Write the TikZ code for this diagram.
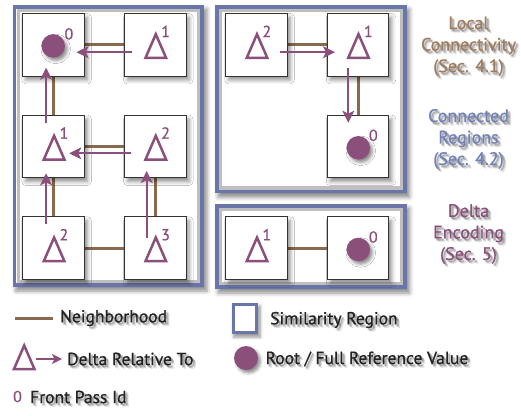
\documentclass[tikz,border=0pt]{standalone}
\usepackage{fontspec}
\setmainfont{PT Sans}[FakeBold=0.8]
\usetikzlibrary{arrows.meta,calc,shadows.blur}

\definecolor{plum}{HTML}{8B4F7B}
\definecolor{nbrbrown}{HTML}{8A6A4E}
\definecolor{regblue}{HTML}{6A75AA}
\definecolor{capbrown}{HTML}{A07B5C}
\definecolor{capblue}{HTML}{7282B8}
\definecolor{inktext}{HTML}{222222}

\tikzset{
  softshadow/.style={blur shadow={shadow xshift=3pt, shadow yshift=-4pt,
      shadow blur radius=4pt, shadow opacity=45}},
  cell/.style={draw=black!80, line width=0.9pt, fill=white, minimum width=61.5pt,
      minimum height=62.5pt, inner sep=0pt, softshadow},
  nbr/.style={draw=nbrbrown, line width=3pt},
  rel/.style={draw=plum, line width=1.8pt, -{Stealth[length=12pt,width=12pt,inset=3pt]}},
  supnum/.style={text=plum, font=\fontsize{16}{16}\selectfont, inner sep=0pt},
  root/.style={circle, fill=plum, minimum size=23.5pt, inner sep=0pt,
      blur shadow={shadow xshift=2.5pt, shadow yshift=-3pt, shadow blur radius=3pt, shadow opacity=45}},
  caption/.style={align=center, inner sep=0pt, font=\fontsize{18}{21.5}\selectfont},
  legend/.style={anchor=west, inner sep=0pt, text=inktext, font=\fontsize{17.5}{20}\selectfont},
  regionline/.style={draw=regblue, line width=3.6pt},
  regionband/.style={draw=black!25, line width=3.4pt},
  deltaglyph/.pic={\draw[plum, line width=2.5pt, line join=miter, miter limit=4]
      (0,-10.5) -- (10.3,13.2) -- (-10.3,13.2) -- cycle;}
}

% soft drop shadow under a text: a few faint offset copies
\newcommand\shadowtext[3]{%
  \foreach \dx/\dy in {1.5/1.5,2.5/2.5,2.5/1.5,1.5/2.5,3.5/3.5}{
    \node[#1, text=black, opacity=0.09] at ($(#2)+(\dx,\dy)$) {#3};
  }
}

\begin{document}
\begin{tikzpicture}[x=1pt,y=-1pt]
\useasboundingbox (0,0) rectangle (521,415);

% ---- similarity regions ----
\path[fill=white, softshadow] (12.7,5) rectangle (204,287);
\draw[regionband] (18.2,10.5) rectangle (198.5,281.5);
\draw[regionline] (14.5,6.8) rectangle (202.2,285.2);

\path[fill=white, softshadow] (215,5) rectangle (406.7,193.3);
\draw[regionband] (220.5,10.5) rectangle (401.2,187.8);
\draw[regionline] (216.8,6.8) rectangle (404.9,191.5);

\path[fill=white, softshadow] (215,204) rectangle (406.7,289);
\draw[regionband] (220.5,209.5) rectangle (401.2,283.5);
\draw[regionline] (216.8,205.8) rectangle (404.9,287.2);

% ---- cell centres ----
\coordinate (pA) at (53.6,44.7);  \coordinate (pB) at (155.3,44.7);
\coordinate (pC) at (53.6,146.3); \coordinate (pD) at (155.3,146.3);
\coordinate (pE) at (53.6,248);   \coordinate (pF) at (155.3,248);
\coordinate (pG) at (256.5,44.7); \coordinate (pH) at (358,44.7);
\coordinate (pI) at (358,146.3);
\coordinate (pJ) at (256.5,248);  \coordinate (pK) at (358,248);

% ---- neighbourhood links (behind cells) ----
\draw[nbr] (pA) -- (pB);
\draw[nbr] (pA) -- (pC);
\draw[nbr] (pC) -- (pD);
\draw[nbr] (pC) -- (pE);
\draw[nbr] (pD) -- (pF);
\draw[nbr] (pE) -- (pF);
\draw[nbr] (pG) -- (pH);
\draw[nbr] (pH) -- (pI);
\draw[nbr] (pJ) -- (pK);

% ---- cells ----
\foreach \c in {A,B,C,D,E,F,G,H,I,J,K}{
  \node[cell] (\c) at (p\c) {};
}

% ---- roots ----
\node[root] (rA) at ($(A.center)+(-0.4,1.2)$) {};
\node[supnum] (sA) at ($(A.center)+(15.3,-10.8)$) {0};
\node[root] (rI) at ($(I.center)+(0.3,1.5)$) {};
\node[supnum] (sI) at ($(I.center)+(15.3,-11)$) {0};
\node[root] (rK) at ($(K.center)+(0.3,1.5)$) {};
\node[supnum] (sK) at ($(K.center)+(15.3,-11)$) {0};

% ---- deltas with front pass ids ----
\foreach \c/\n in {B/1,C/1,D/2,E/2,F/3,G/2,H/1,J/1}{
  \pic at ($(\c.center)+(0.5,0)$) {deltaglyph};
  \node[supnum] (s\c) at ($(\c.center)+(10.3,-13.3)$) {\n};
}

% ---- delta references ----
\draw[rel] ($(B.center)+(-23,7.5)$) -- ($(A.center)+(23,7.5)$);
\draw[rel] ($(C.center)+(-7.5,-23)$) -- ($(A.center)+(-7.5,23)$);
\draw[rel] ($(D.center)+(-24,7)$) -- ($(C.center)+(15.7,7)$);
\draw[rel] ($(E.center)+(-7.5,-23.7)$) -- ($(C.center)+(-7.5,27)$);
\draw[rel] ($(F.center)+(-8.6,-9.7)$) -- ($(D.center)+(-8.6,24.7)$);
\draw[rel] ($(G.center)+(23.5,7.5)$) -- ($(H.center)+(-23,7.5)$);
\draw[rel] ($(H.center)+(-9.7,23.5)$) -- ($(I.center)+(-9.7,-23.6)$);

% ---- captions ----
\shadowtext{caption}{468.5,46.3}{Local\\Connectivity\\(Sec. 4.1)}
\node[caption, text=capbrown] (capLocal) at (468.5,46.3) {Local\\Connectivity\\(Sec. 4.1)};
\shadowtext{caption}{468.5,139}{Connected\\Regions\\(Sec. 4.2)}
\node[caption, text=capblue] (capConn) at (468.5,139) {Connected\\Regions\\(Sec. 4.2)};
\shadowtext{caption}{468.5,234}{Delta\\Encoding\\(Sec. 5)}
\node[caption, text=plum] (capDelta) at (468.5,234) {Delta\\Encoding\\(Sec. 5)};

% ---- legend ----
\coordinate (lnA) at (15,318);
\coordinate (lnB) at (53,318);
\draw[nbr] (lnA) -- (lnB);
\shadowtext{legend}{60,318}{Neighborhood}
\node[legend] (lgNbr) at (60,318) {Neighborhood};

\path[fill=white, blur shadow={shadow xshift=2pt, shadow yshift=-3pt, shadow blur radius=3pt, shadow opacity=40}] (231.7,303) rectangle (258.3,334.3);
\draw[regionline, line width=3.3pt] (233.4,304.7) rectangle (256.6,332.6);
\shadowtext{legend}{270,320}{Similarity Region}
\node[legend] (lgSim) at (270,320) {Similarity Region};

\pic at (24.2,356) {deltaglyph};
\coordinate (arA) at (36,359);
\coordinate (arB) at (62,359);
\draw[rel, -{Stealth[length=10pt,width=10pt,inset=2.5pt]}] (arA) -- (arB);
\shadowtext{legend}{67,359}{Delta Relative To}
\node[legend] (lgRel) at (67,359) {Delta Relative To};

\node[root, minimum size=24pt] (lgRoot) at (246,358) {};
\shadowtext{legend}{265.5,359}{Root / Full Reference Value}
\node[legend] (lgRootTxt) at (265.5,359) {Root / Full Reference Value};

\node[supnum, font=\fontsize{16}{16}\selectfont] (lgId) at (17.5,396.5) {0};
\shadowtext{legend}{30,397}{Front Pass Id}
\node[legend] (lgIdTxt) at (30,397) {Front Pass Id};
\end{tikzpicture}
\end{document}
